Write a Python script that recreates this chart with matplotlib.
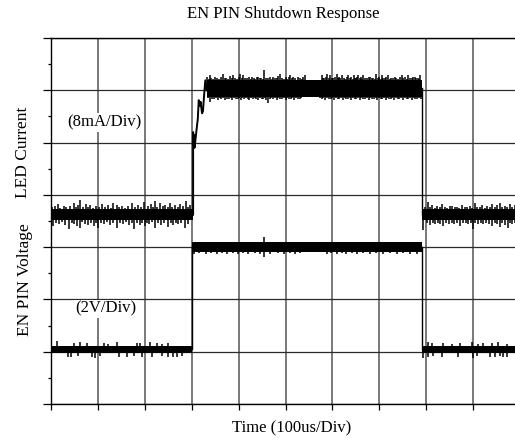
import matplotlib
matplotlib.use("Agg")
import matplotlib.pyplot as plt
from matplotlib.ticker import MultipleLocator

plt.rcParams['font.family'] = ['Liberation Serif', 'DejaVu Serif']

# time in us (100us/div), vertical position in screen divisions
t_rise = 300
t_fall = 790

# LED current trace (8mA/div)
cur_low = 3.62
cur_low_hw = 0.10
cur_high = 6.035
cur_high_hw = 0.16
cur_rise_t = [303, 303, 304, 305, 306, 308, 311, 313, 315, 317, 319, 322, 324, 326, 329, 332]
cur_rise_y = [3.62, 5.20, 4.95, 5.15, 4.90, 5.05, 5.30, 5.45, 5.81, 5.70, 5.78, 5.56, 5.60, 5.85, 6.19, 6.00]

cur_l_up_t = [3, 8, 14, 20, 27, 33, 40, 48, 53, 58, 62, 68, 74, 79, 83, 90, 96, 103, 109, 115, 121, 127, 133, 140, 146, 152,
              158, 165, 173, 180, 186, 192, 199, 206, 213, 218, 222, 227, 232, 238, 243, 249, 254, 259, 264, 270, 275, 281, 287, 292, 296]
cur_l_up_y = [3.76, 3.79, 3.82, 3.75, 3.78, 3.76, 3.79, 3.84, 3.77, 3.80, 3.90, 3.76, 3.82, 3.77, 3.80, 3.75, 3.78, 3.76, 3.83, 3.77, 3.80, 3.75, 3.85, 3.81, 3.76, 3.78,
              3.75, 3.79, 3.84, 3.77, 3.80, 3.76, 3.86, 3.78, 3.82, 3.77, 3.88, 3.76, 3.84, 3.78, 3.80, 3.76, 3.85, 3.77, 3.80, 3.76, 3.83, 3.78, 3.88, 3.77, 3.81]
cur_l_dn_t = [5, 11, 17, 24, 30, 38, 44, 50, 55, 62, 67, 72, 78, 85, 92, 97, 101, 107, 114, 120, 126, 133, 140, 147, 154, 160,
              166, 172, 178, 184, 190, 195, 200, 205, 209, 216, 222, 228, 235, 242, 249, 255, 261, 266, 271, 278, 286, 293]
cur_l_dn_y = [3.40, 3.47, 3.44, 3.48, 3.42, 3.35, 3.47, 3.44, 3.40, 3.36, 3.48, 3.45, 3.42, 3.47, 3.40, 3.47, 3.36, 3.46, 3.44, 3.48, 3.42, 3.46, 3.37, 3.47, 3.44, 3.48,
              3.43, 3.47, 3.35, 3.46, 3.42, 3.47, 3.40, 3.46, 3.45, 3.48, 3.36, 3.46, 3.43, 3.47, 3.38, 3.46, 3.42, 3.47, 3.44, 3.46, 3.37, 3.45]

cur_h_up_t = [332, 336, 339, 342, 345, 350, 354, 358, 362, 367, 371, 374, 378, 381, 385, 389, 393, 396, 400, 403, 407, 410, 414, 418,
              422, 426, 429, 433, 436, 439, 442, 445, 448, 451, 454, 458, 463, 467, 471, 474, 478, 481, 485, 488, 492, 496, 500, 503,
              507, 510, 514, 517, 521, 527, 531, 535, 538, 542, 546, 552, 557, 563, 568, 574, 577, 580, 583, 586, 588, 592, 595, 599,
              602, 605, 609, 612, 614, 617, 620, 624, 627, 631, 634, 637, 640, 643, 645, 648, 650, 653, 655, 658, 661, 664, 666, 670,
              673, 677, 680, 684, 687, 690, 694, 697, 700, 703, 705, 708, 712, 715, 719, 722, 726, 729, 733, 736, 740, 744, 748, 751,
              755, 758, 762, 765, 769, 772, 776, 779, 782, 785, 787]
cur_h_up_y = [6.26, 6.22, 6.29, 6.24, 6.22, 6.26, 6.23, 6.22, 6.25, 6.31, 6.23, 6.24, 6.22, 6.28, 6.23, 6.29, 6.24, 6.22, 6.26, 6.32, 6.23, 6.29, 6.24, 6.23,
              6.25, 6.22, 6.26, 6.24, 6.22, 6.25, 6.26, 6.23, 6.24, 6.22, 6.39, 6.24, 6.23, 6.25, 6.22, 6.26, 6.23, 6.24, 6.27, 6.32, 6.24, 6.22, 6.26, 6.22,
              6.25, 6.29, 6.23, 6.26, 6.24, 6.26, 6.23, 6.22, 6.25, 6.29, 6.20, 6.18, 6.20, 6.16, 6.19, 6.18, 6.29, 6.24, 6.24, 6.26, 6.32, 6.23, 6.29, 6.24,
              6.23, 6.26, 6.32, 6.24, 6.25, 6.23, 6.29, 6.24, 6.22, 6.26, 6.29, 6.23, 6.25, 6.22, 6.29, 6.24, 6.23, 6.26, 6.29, 6.23, 6.25, 6.22, 6.29, 6.24,
              6.23, 6.26, 6.26, 6.23, 6.24, 6.22, 6.32, 6.24, 6.25, 6.22, 6.29, 6.24, 6.23, 6.25, 6.29, 6.22, 6.24, 6.23, 6.26, 6.24, 6.22, 6.25, 6.29, 6.23,
              6.25, 6.22, 6.29, 6.24, 6.23, 6.25, 6.26, 6.23, 6.24, 6.22, 6.29]
cur_h_dn_t = [335, 339, 343, 347, 351, 356, 360, 363, 367, 371, 375, 379, 383, 386, 390, 394, 398, 401, 405, 408, 412, 415, 419, 423,
              426, 430, 434, 437, 441, 445, 449, 452, 456, 459, 463, 466, 470, 474, 478, 481, 485, 489, 492, 496, 500, 504, 507, 511,
              514, 518, 522, 526, 530, 534, 537, 541, 545, 549, 553, 557, 561, 565, 569, 573, 578, 581, 585, 589, 592, 596, 600, 604,
              607, 611, 615, 619, 622, 626, 629, 633, 637, 640, 644, 648, 651, 655, 659, 662, 666, 670, 673, 677, 681, 684, 688, 692,
              695, 699, 703, 706, 710, 714, 717, 721, 725, 728, 732, 736, 740, 743, 747, 751, 754, 758, 762, 765, 769, 773, 777, 780, 784, 788]
cur_h_dn_y = [5.85, 5.78, 5.83, 5.84, 5.86, 5.82, 5.85, 5.83, 5.86, 5.82, 5.84, 5.83, 5.85, 5.81, 5.86, 5.83, 5.84, 5.86, 5.82, 5.85, 5.83, 5.86, 5.84, 5.82,
              5.85, 5.83, 5.86, 5.84, 5.82, 5.86, 5.84, 5.83, 5.85, 5.82, 5.76, 5.84, 5.86, 5.83, 5.85, 5.82, 5.86, 5.84, 5.83, 5.85, 5.82, 5.86, 5.84, 5.83,
              5.85, 5.82, 5.86, 5.84, 5.83, 5.85, 5.87, 5.89, 5.90, 5.88, 5.91, 5.89, 5.90, 5.88, 5.89, 5.86, 5.83, 5.85, 5.82, 5.86, 5.84, 5.83, 5.85, 5.82,
              5.86, 5.84, 5.83, 5.85, 5.82, 5.86, 5.84, 5.83, 5.85, 5.82, 5.86, 5.84, 5.83, 5.85, 5.82, 5.86, 5.84, 5.83, 5.85, 5.82, 5.86, 5.84, 5.83, 5.85,
              5.82, 5.86, 5.84, 5.83, 5.85, 5.82, 5.86, 5.84, 5.83, 5.85, 5.82, 5.86, 5.84, 5.83, 5.85, 5.82, 5.86, 5.84, 5.83, 5.85, 5.82, 5.86, 5.84, 5.83, 5.85, 5.84]

cur_r_up_t = [797, 804, 808, 812, 818, 823, 829, 834, 840, 845, 850, 855, 861, 866, 871, 876, 882, 887, 893, 898, 904, 909,
              914, 919, 925, 930, 935, 940, 946, 951, 957, 962, 968, 973, 979, 984, 990, 995]
cur_r_up_y = [3.77, 3.86, 3.76, 3.80, 3.75, 3.78, 3.76, 3.82, 3.77, 3.75, 3.78, 3.79, 3.76, 3.77, 3.75, 3.81, 3.76, 3.77, 3.78, 3.75, 3.84, 3.77,
              3.76, 3.80, 3.75, 3.79, 3.76, 3.83, 3.77, 3.80, 3.85, 3.76, 3.79, 3.77, 3.82, 3.76, 3.80, 3.77]
cur_r_dn_t = [793, 801, 808, 814, 819, 825, 830, 836, 842, 848, 855, 860, 866, 872, 878, 884, 889, 895, 900, 905, 910, 916,
              922, 928, 934, 940, 947, 952, 957, 962, 968, 974, 979, 983, 989, 995]
cur_r_dn_y = [3.33, 3.46, 3.42, 3.47, 3.45, 3.47, 3.44, 3.40, 3.47, 3.45, 3.46, 3.44, 3.47, 3.41, 3.46, 3.47, 3.45, 3.47, 3.35, 3.46, 3.44, 3.47,
              3.45, 3.46, 3.44, 3.40, 3.46, 3.44, 3.38, 3.46, 3.43, 3.36, 3.46, 3.45, 3.47, 3.41]

# EN pin voltage trace (2V/div)
en_low = 1.045
en_low_hw = 0.065
en_high = 3.0
en_high_hw = 0.095

en_l_up_t = [12, 50, 62, 76, 112, 122, 140, 183, 190, 211, 225, 236, 250]
en_l_up_y = [1.20, 1.17, 1.18, 1.16, 1.17, 1.15, 1.18, 1.16, 1.17, 1.18, 1.16, 1.15, 1.17]
en_l_dn_t = [1, 37, 43, 58, 87, 94, 104, 144, 161, 176, 193, 215, 236, 250, 261, 268, 279]
en_l_dn_y = [0.88, 0.90, 0.89, 0.91, 0.90, 0.88, 0.91, 0.90, 0.89, 0.91, 0.90, 0.89, 0.91, 0.90, 0.89, 0.90, 0.91]

en_h_up_t = [454]
en_h_up_y = [3.19]
en_h_dn_t = [305, 315, 330, 341, 353, 364, 375, 389, 399, 410, 421, 435, 446, 454, 467, 485, 497, 510, 520, 531, 588, 598, 609, 620,
             630, 641, 652, 666, 680, 694, 708, 723, 737, 751, 765, 780]
en_h_dn_y = [2.87, 2.88, 2.87, 2.88, 2.87, 2.88, 2.87, 2.88, 2.87, 2.88, 2.87, 2.88, 2.87, 2.82, 2.87, 2.88, 2.87, 2.88, 2.87, 2.88, 2.87, 2.88, 2.87, 2.88,
             2.87, 2.88, 2.87, 2.88, 2.87, 2.88, 2.87, 2.88, 2.87, 2.88, 2.87, 2.86]

en_r_up_t = [804, 812, 836, 855, 872, 898, 910, 921, 940, 953, 972]
en_r_up_y = [1.19, 1.16, 1.17, 1.15, 1.16, 1.18, 1.15, 1.17, 1.16, 1.18, 1.15]
en_r_dn_t = [793, 804, 815, 834, 868, 900, 908, 936, 947, 957, 964, 972]
en_r_dn_y = [0.88, 0.90, 0.91, 0.89, 0.90, 0.88, 0.91, 0.90, 0.89, 0.91, 0.90, 0.89]


def segment(ax, t0, t1, c, hw, up_t, up_y, dn_t, dn_y):
    ax.fill_between([t0, t1], c - hw, c + hw, color='black', lw=0, zorder=3)
    ax.vlines(up_t, c, up_y, color='black', lw=1.1, zorder=3)
    ax.vlines(dn_t, dn_y, c, color='black', lw=1.1, zorder=3)


fig = plt.figure(figsize=(5.15, 4.41), dpi=100)
ax = fig.add_axes([51 / 515, 37 / 441, 469 / 515, 366 / 441])
ax.set_xlim(0, 1000)
ax.set_ylim(0, 7)

ax.xaxis.set_major_locator(MultipleLocator(100))
ax.yaxis.set_major_locator(MultipleLocator(1))
ax.yaxis.set_minor_locator(MultipleLocator(0.5))
ax.tick_params(axis='y', which='major', direction='out', length=5.8, width=0.9, labelleft=False)
ax.tick_params(axis='y', which='minor', direction='out', length=2.5, width=0.9)
ax.tick_params(axis='x', which='major', direction='out', length=4.3, width=0.9, labelbottom=False)
ax.xaxis.grid(True, color='#6e6e6e', lw=1.3)
ax.yaxis.grid(True, color='#2a2a2a', lw=0.9)
ax.set_axisbelow(True)
ax.spines['right'].set_visible(False)
for s in ['left', 'top', 'bottom']:
    ax.spines[s].set_linewidth(1.0)

# LED current
segment(ax, 0, cur_rise_t[0], cur_low, cur_low_hw, cur_l_up_t, cur_l_up_y, cur_l_dn_t, cur_l_dn_y)
ax.plot(cur_rise_t, cur_rise_y, color='black', lw=1.4, zorder=3)
segment(ax, cur_rise_t[-1], t_fall, cur_high, cur_high_hw, cur_h_up_t, cur_h_up_y, cur_h_dn_t, cur_h_dn_y)
ax.plot([t_fall, t_fall], [cur_high, cur_low], color='black', lw=1.0, zorder=3)
segment(ax, t_fall + 2, 1000, cur_low, cur_low_hw, cur_r_up_t, cur_r_up_y, cur_r_dn_t, cur_r_dn_y)

# EN pin voltage
segment(ax, 0, t_rise, en_low, en_low_hw, en_l_up_t, en_l_up_y, en_l_dn_t, en_l_dn_y)
ax.plot([t_rise, t_rise], [en_low, en_high], color='black', lw=1.0, zorder=3)
segment(ax, t_rise, t_fall, en_high, en_high_hw, en_h_up_t, en_h_up_y, en_h_dn_t, en_h_dn_y)
ax.plot([t_fall, t_fall], [en_high, en_low], color='black', lw=1.0, zorder=3)
segment(ax, t_fall + 2, 1000, en_low, en_low_hw, en_r_up_t, en_r_up_y, en_r_dn_t, en_r_dn_y)

box = dict(facecolor='white', edgecolor='none', pad=1)
ax.text(113, 5.39, '(8mA/Div)', fontsize=12, ha='center', va='center', bbox=box, zorder=4)
ax.text(117, 1.82, '(2V/Div)', fontsize=12, ha='center', va='center', bbox=box, zorder=4)

fig.text(283 / 515, 1 - 14 / 441, 'EN PIN Shutdown Response', fontsize=12, ha='center', va='center')
fig.text(292 / 515, 1 - 428 / 441, 'Time (100us/Div)', fontsize=12, ha='center', va='center')
fig.text(23 / 515, 1 - 152 / 441, 'LED Current', fontsize=12.5, rotation=90, ha='center', va='center')
fig.text(25 / 515, 1 - 280 / 441, 'EN PIN Voltage', fontsize=12.5, rotation=90, ha='center', va='center')

fig.savefig('out.png', dpi=100)
